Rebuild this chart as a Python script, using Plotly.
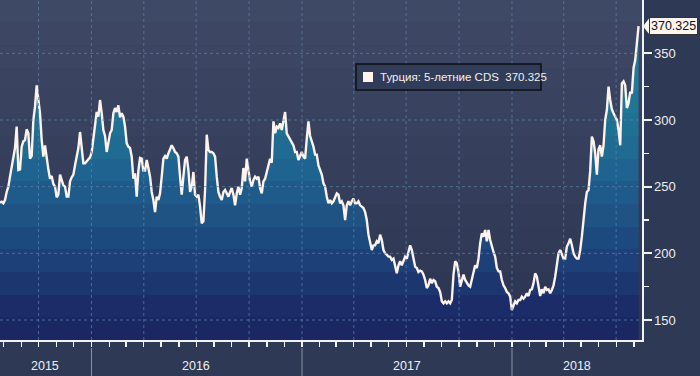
import plotly.graph_objects as go
import pandas as pd

# ---------------- data ----------------
series_name = "Турция: 5-летние CDS"
start_date = "2015-07-26"
end_date = "2018-08-09"
values = [
    238, 238.7, 237.5, 240, 246, 250, 257.5, 265, 271, 279,
    295, 262.5, 263, 280, 284, 285, 293, 290, 271, 273,
    300, 310, 326, 314, 305, 285, 272.5, 281, 270, 263,
    256, 258, 252, 250, 242, 244, 259, 254, 251, 250,
    242.5, 242.5, 254, 257, 259, 266, 274, 279, 291, 280,
    267.5, 267.5, 269, 270.5, 272, 276, 286, 298, 306, 302.5,
    315, 305, 292.5,
    288, 276, 283, 290, 292.5, 305, 309,
    306, 311, 302, 305, 302.5, 295, 282.5, 280, 279, 272.5,
    256, 260, 242.5, 262, 271.5, 271, 262, 262, 270, 264,
    257.5, 246, 240, 231, 242.5, 240, 245, 257.5, 271, 273,
    271, 275, 277.5, 281, 279, 276, 275, 272.5, 257.5, 244,
    257.5, 270, 272.5, 262.5, 246, 250, 261, 244, 242.5, 244,
    235, 222.5, 224, 247.5, 289, 277.5,
    276, 276, 275, 272.5,
    257.5, 246, 242.5, 240, 246, 247.5, 245, 242.5, 246, 249,
    244, 236, 245, 250, 244, 249, 264, 254, 271, 262.5,
    254, 250, 255, 257.5, 256, 257.5, 249, 245, 254, 256,
    261, 267.5, 271, 268, 299, 290, 295, 294, 297.5, 292.5,
    300, 306, 290, 287.5, 286, 282.5, 281, 276, 276, 270,
    273, 276, 272.5, 271, 286, 299, 288, 284, 280, 274,
    274, 266, 263, 259, 252.5, 250, 242.5, 237.5, 240, 237.5,
    239, 242.5, 245, 244, 237.5, 239, 236, 225, 236, 239,
    236, 239, 241, 237.5, 237.5, 239, 236, 235, 234, 231,
    225, 214, 209, 202.5, 206, 206, 209, 207.5, 214, 210,
    202.5, 200, 199, 197.5, 197.5, 195, 196, 190, 185, 191,
    194, 191, 195, 197.5, 196, 201, 206, 202.5, 195, 190,
    189, 186, 187, 186.5, 184, 180, 174, 176, 181, 177.5,
    180, 179, 175, 174, 171, 164, 162.5, 164, 162.5, 164,
    162.5, 165, 184, 194, 192.5, 186, 175, 180, 184, 180,
    177.5, 176, 175, 180, 186, 191, 189, 196, 207.5, 215,
    212.5, 217.5, 209, 217.5, 210, 205, 201, 197.5, 189, 186.5,
    186.5, 180, 176, 174, 171, 170, 167.5, 157.5, 161, 164,
    162.5, 165, 165, 167.5, 166, 167.5, 170, 168, 172.5, 173,
    177.5, 185, 182.5, 175, 168, 173, 170, 175, 172.5, 173,
    170, 172.5, 176, 182.5, 192.5, 200, 202.5, 198.8, 196, 196,
    205, 207.5, 211, 206, 200, 197.5, 196, 196, 202.5, 212.5,
    226, 237.5, 246, 247.5, 262, 287.5, 284, 275, 259, 278,
    281, 272.5, 281, 300, 307.5, 325, 315, 308, 305, 302.5,
    300, 292.5, 281, 327.5, 329, 326, 309, 312.5, 321, 320,
    339, 345, 357, 370.325,
]
dates = pd.date_range(start_date, end_date, periods=len(values))

x_range = ["2015-07-26", "2018-08-15"]
y_range = [135, 390]
y_ticks = [150, 200, 250, 300, 350]
y_minor_ticks = [175, 225, 275, 325]
year_labels = ["2015", "2016", "2017", "2018"]
year_label_dates = ["2015-10-13", "2016-07-01", "2017-07-02", "2018-04-24"]
year_starts = ["2016-01-01", "2017-01-01", "2018-01-01"]
grid_dates = pd.date_range("2015-10-01", "2018-07-01", freq="QS")
last_value = values[-1]

# ---------------- styling helpers ----------------
FONT = "Liberation Sans, Arial, sans-serif"


def hex2rgb(h):
    h = h.lstrip("#")
    return [int(h[i:i + 2], 16) for i in (0, 2, 4)]


def interp(anchors, v):
    keys = sorted(anchors)
    if v <= keys[0]:
        return anchors[keys[0]]
    if v >= keys[-1]:
        return anchors[keys[-1]]
    for a, b in zip(keys[:-1], keys[1:]):
        if a <= v <= b:
            t = (v - a) / (b - a)
            ca, cb = hex2rgb(anchors[a]), hex2rgb(anchors[b])
            c = [round(ca[i] + (cb[i] - ca[i]) * t) for i in range(3)]
            return "rgb(%d,%d,%d)" % tuple(c)


fill_anchors = {135: "#1a2460", 160: "#1b2c68", 185: "#1c3a73", 210: "#1d497d",
                235: "#1e5686", 260: "#1f6290", 285: "#1f6d93", 310: "#1f7596",
                340: "#207c99", 390: "#21809c"}
bg_anchors = {135: "#2b3450", 200: "#303a56", 250: "#343e5a", 300: "#38425e",
              350: "#3c4662", 390: "#3f4a66"}

n_bands = 15
band_h = (y_range[1] - y_range[0]) / n_bands
colorscale = []
shapes = []
for k in range(n_bands):
    lo = y_range[0] + k * band_h
    hi = lo + band_h
    mid = (lo + hi) / 2
    c = interp(fill_anchors, mid)
    colorscale.append([k / n_bands, c])
    colorscale.append([(k + 1) / n_bands, c])
    shapes.append(dict(type="rect", xref="paper", x0=0, x1=1, yref="y", y0=lo, y1=hi,
                       fillcolor=interp(bg_anchors, mid), line=dict(width=0), layer="below"))

fig = go.Figure()
fig.add_trace(go.Scatter(
    x=dates, y=values, mode="lines", name=series_name,
    line=dict(color="#fdf3ec", width=2.4),
    fill="tozeroy",
    fillgradient=dict(type="vertical", colorscale=colorscale,
                      start=y_range[0], stop=y_range[1]),
    hoverinfo="skip",
))

grid_col = "rgba(88,128,165,0.75)"
for v in y_ticks:
    shapes.append(dict(type="line", xref="paper", x0=0, x1=1, yref="y", y0=v, y1=v,
                       line=dict(color=grid_col, width=1, dash="3px,3px"), layer="above"))
for d in grid_dates:
    shapes.append(dict(type="line", xref="x", x0=d, x1=d, yref="paper", y0=0, y1=1,
                       line=dict(color=grid_col, width=1, dash="3px,3px"), layer="above"))
for d in year_starts:
    shapes.append(dict(type="line", xref="x", x0=d, x1=d, yref="paper", y0=-0.024, y1=-0.11,
                       line=dict(color="#8c95a6", width=1), layer="above"))

# legend-like box
PW, PH = 642.0, 340.0
shapes.append(dict(type="rect", xref="paper", yref="paper",
                   x0=356 / PW, x1=541 / PW, y0=(PH - 90) / PH, y1=(PH - 64) / PH,
                   fillcolor="#313c58", line=dict(color="#0d0f16", width=1.5), layer="above"))
shapes.append(dict(type="rect", xref="paper", yref="paper",
                   x0=363 / PW, x1=373 / PW, y0=(PH - 82) / PH, y1=(PH - 72) / PH,
                   fillcolor="#fdf3ec", line=dict(width=0), layer="above"))
# arrow of last value label
shapes.append(dict(type="path", xref="paper", yref="y", xsizemode="pixel", ysizemode="pixel",
                   xanchor=1, yanchor=last_value, path="M 1 0 L 8 9 L 8 -9 Z",
                   fillcolor="#fdf5ee", line=dict(width=0), layer="above"))

annotations = [
    dict(xref="paper", yref="paper", x=378 / PW, y=(PH - 77.5) / PH, xanchor="left", yanchor="middle",
         showarrow=False, text=f"{series_name}&nbsp;&nbsp;{last_value:.3f}",
         font=dict(family=FONT, size=11.5, color="#f0f0f0")),
    dict(xref="paper", yref="y", x=1, y=last_value, xanchor="left", yanchor="middle",
         xshift=7, showarrow=False, text=f"{last_value:.3f}",
         bgcolor="#fdf5ee", bordercolor="#333333", borderwidth=1, borderpad=1,
         font=dict(family=FONT, size=12.5, color="#111111")),
]
for lab, d in zip(year_labels, year_label_dates):
    annotations.append(dict(xref="x", yref="paper", x=d, y=-0.077, xanchor="center", yanchor="middle",
                            showarrow=False, text=lab,
                            font=dict(family=FONT, size=12.5, color="#f0f0f0")))

axis_col = "#f2f2f2"
fig.update_layout(
    width=700, height=376,
    margin=dict(l=0, r=58, t=0, b=36),
    paper_bgcolor="#2e3955", plot_bgcolor="#343e5a",
    showlegend=False,
    shapes=shapes, annotations=annotations,
    xaxis=dict(type="date", range=x_range, showgrid=False, zeroline=False,
               showline=True, linecolor=axis_col, linewidth=1.5,
               ticks="outside", tickcolor=axis_col, ticklen=5, tickwidth=1.2,
               dtick="M1", tick0="2015-08-01", showticklabels=False),
    yaxis=dict(range=y_range, side="right", showgrid=False, zeroline=False,
               showline=True, linecolor=axis_col, linewidth=1.5,
               ticks="outside", tickcolor=axis_col, ticklen=8, tickwidth=2,
               tickvals=y_ticks, ticktext=[str(v) for v in y_ticks],
               tickfont=dict(family=FONT, size=13, color="#eeeeee"),
               minor=dict(tickvals=y_minor_ticks, ticks="outside", ticklen=5,
                          tickcolor=axis_col, tickwidth=1.2, showgrid=False)),
)

fig.write_html(
    "out.html",
    config={"displayModeBar": False, "staticPlot": True},
    post_script="document.body.style.margin='0px';document.body.style.overflow='hidden';",
)
